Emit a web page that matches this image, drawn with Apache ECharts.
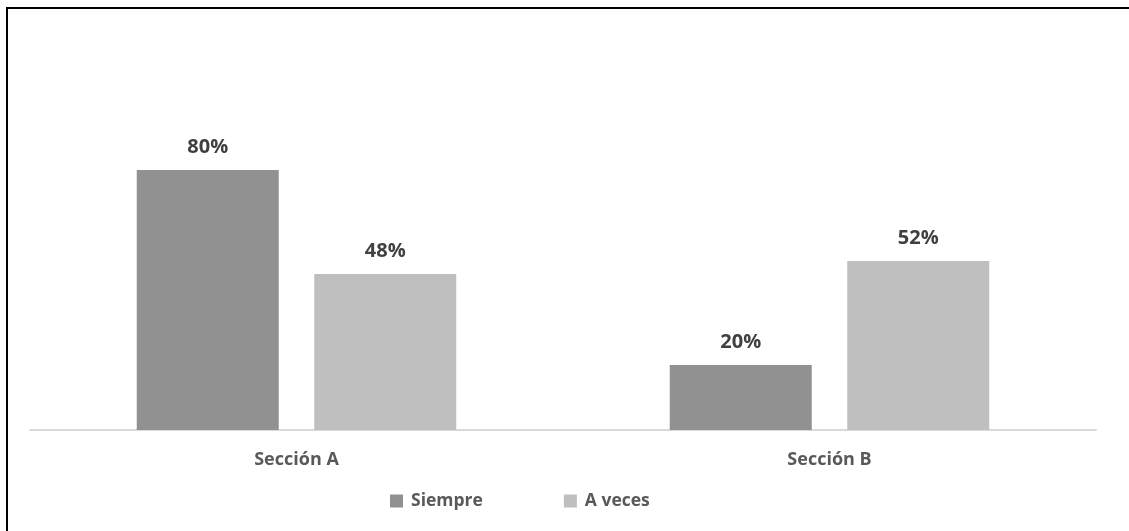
<!DOCTYPE html>
<html><head><meta charset="utf-8">
<script src="https://cdn.jsdelivr.net/npm/echarts@6/dist/echarts.min.js"></script>
<style>
html,body{margin:0;padding:0;background:#fff;overflow:hidden}
#frame{position:absolute;left:6px;top:7px;width:3000px;height:3000px;border-top:2px solid #000;border-left:2px solid #000;box-sizing:border-box}
#c{position:absolute;left:0;top:0;width:1129px;height:531px}
</style></head>
<body>
<div id="frame"></div>
<div id="c"></div>
<script>
const categories = ['Sección A', 'Sección B'];
const seriesNames = ['Siempre', 'A veces'];
const siempre = [80, 20];
const aVeces = [48, 52];

const chart = echarts.init(document.getElementById('c'), null, {renderer:'canvas'});
const font = '"Open Sans", "Liberation Sans", sans-serif';
const labelCfg = {show:true, position:'top', distance:13, formatter:p=>p.value+'%', color:'#404040', fontSize:20, fontWeight:'bold', fontFamily:font};
chart.setOption({
  animation:false,
  backgroundColor:'transparent',
  grid:{left:30, right:33, top:105, bottom:101},
  xAxis:{type:'category', data:categories,
    axisLine:{lineStyle:{color:'#d9d9d9', width:2}},
    axisTick:{show:false},
    axisLabel:{color:'#595959', fontSize:18, fontWeight:'bold', fontFamily:font, margin:21}},
  yAxis:{type:'value', min:0, max:100, show:false, splitLine:{show:false}},
  legend:{left:385, top:487, itemWidth:13, itemHeight:13, itemGap:81, icon:'rect',
    textStyle:{color:'#595959', fontSize:17.5, fontWeight:'bold', fontFamily:font, padding:[0,0,0,3]}},
  series:[
    {name:seriesNames[0], type:'bar', data:siempre, barWidth:142, barGap:'25%', itemStyle:{color:'#919191'}, label:labelCfg},
    {name:seriesNames[1], type:'bar', data:aVeces, barWidth:142, itemStyle:{color:'#bfbfbf'}, label:labelCfg}
  ]
});
</script>
</body></html>
